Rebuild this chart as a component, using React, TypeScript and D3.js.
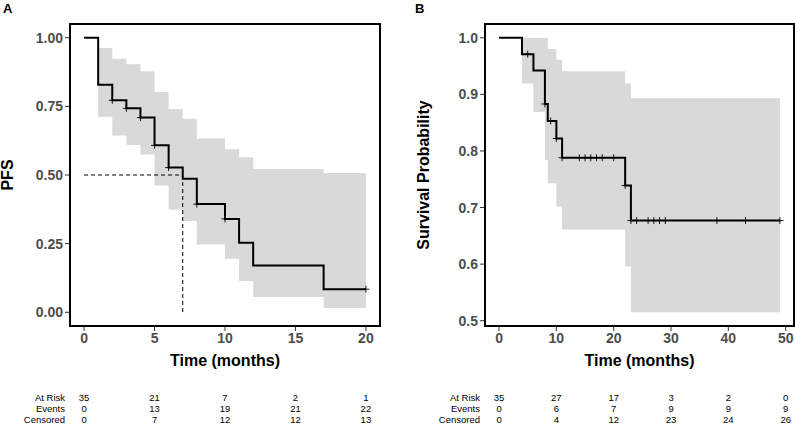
import React from "react";
import * as d3 from "d3";

// panel A: progression-free survival
const kmTimesA = [0, 1, 2, 3, 4, 5, 6, 7, 8, 10, 11, 12, 17, 20];
const kmSurvA = [1.0, 0.829, 0.772, 0.743, 0.709, 0.608, 0.527, 0.486, 0.394, 0.34, 0.253, 0.17, 0.084, 0.084];
const upperA = [1.0, 0.963, 0.923, 0.903, 0.878, 0.802, 0.74, 0.705, 0.633, 0.594, 0.565, 0.522, 0.507, 0.507];
const lowerA = [1.0, 0.712, 0.644, 0.609, 0.575, 0.462, 0.374, 0.332, 0.247, 0.195, 0.114, 0.056, 0.016, 0.016];
const censorA = [2, 3, 4, 5, 6, 8, 10, 20];
const medianA = 7;
const xTicksA = [0, 5, 10, 15, 20];
const yTicksA = [0, 0.25, 0.5, 0.75, 1];
const atRiskA = [35, 21, 7, 2, 1];
const eventsA = [0, 13, 19, 21, 22];
const censoredA = [0, 7, 12, 12, 13];

// panel B: overall survival
const kmTimesB = [0, 4, 6, 8, 8.5, 10, 11, 22, 23, 49];
const kmSurvB = [1.0, 0.971, 0.942, 0.883, 0.853, 0.822, 0.788, 0.739, 0.677, 0.677];
const upperB = [1.0, 1.0, 1.0, 1.0, 0.98, 0.961, 0.941, 0.919, 0.893, 0.893];
const lowerB = [1.0, 0.919, 0.869, 0.784, 0.743, 0.702, 0.661, 0.596, 0.515, 0.515];
const censorB = [5, 8, 9, 10, 11, 14, 15, 16, 17, 18, 20, 22, 23, 24, 26, 27, 28, 29, 38, 43, 49];
const xTicksB = [0, 10, 20, 30, 40, 50];
const yTicksB = [0.5, 0.6, 0.7, 0.8, 0.9, 1.0];
const atRiskB = [35, 27, 17, 3, 2, 0];
const eventsB = [0, 6, 7, 9, 9, 9];
const censoredB = [0, 4, 12, 23, 24, 26];

const rowLabels = ["At Risk", "Events", "Censored"];
const FONT = "'Liberation Sans', Arial, Helvetica, sans-serif";

type PanelProps = {
  tag: string;
  tagX: number;
  yTitle: string;
  yTitleX: number;
  left: number;
  right: number;
  xDomain: [number, number];
  yDomain: [number, number];
  xTicks: number[];
  yTicks: number[];
  yFormat: string;
  times: number[];
  surv: number[];
  upper: number[];
  lower: number[];
  censor: number[];
  median?: number;
  risk: number[][];
};

const top = 24;
const bottom = 326;

function Panel(p: PanelProps) {
  const x = d3.scaleLinear().domain(p.xDomain).range([p.left, p.right]);
  const y = d3.scaleLinear().domain(p.yDomain).range([bottom, top]);
  const fmt = d3.format(p.yFormat);

  const pts = p.times.map((t, i) => ({ t, s: p.surv[i], hi: p.upper[i], lo: p.lower[i] }));
  const line = d3
    .line<any>()
    .x(d => x(d.t))
    .y(d => y(d.s))
    .curve(d3.curveStepAfter);
  const band = d3
    .area<any>()
    .x(d => x(d.t))
    .y0(d => y(d.lo))
    .y1(d => y(d.hi))
    .curve(d3.curveStepAfter);

  // survival level at time t (right-continuous step)
  const survAt = (t: number) => {
    let s = p.surv[0];
    p.times.forEach((tt, i) => {
      if (tt <= t) s = p.surv[i];
    });
    return s;
  };

  const mid = (p.left + p.right) / 2;
  const rowY = [401, 412, 422.5];

  return (
    <g fontFamily={FONT}>
      <text x={p.tagX} y={13} fontSize={13} fontWeight="bold">
        {p.tag}
      </text>
      <path d={band(pts) || ""} fill="#d9d9d9" />
      {p.median !== undefined && (
        <g stroke="#000" strokeWidth={1} strokeDasharray="4,3" fill="none">
          <line x1={x(0)} x2={x(p.median)} y1={y(0.5)} y2={y(0.5)} />
          <line x1={x(p.median)} x2={x(p.median)} y1={y(0.5)} y2={y(0)} />
        </g>
      )}
      <path d={line(pts) || ""} fill="none" stroke="#000" strokeWidth={2} />
      {p.censor.map((t, i) => (
        <g key={i} stroke="#000" strokeWidth={0.9}>
          <line x1={x(t)} x2={x(t)} y1={y(survAt(t)) - 3.5} y2={y(survAt(t)) + 3.5} />
          <line x1={x(t) - 3.5} x2={x(t) + 3.5} y1={y(survAt(t))} y2={y(survAt(t))} />
        </g>
      ))}
      <rect
        x={p.left}
        y={top}
        width={p.right - p.left}
        height={bottom - top}
        fill="none"
        stroke="#000"
        strokeWidth={2}
      />
      {p.xTicks.map(t => (
        <g key={t}>
          <line x1={x(t)} x2={x(t)} y1={bottom + 1} y2={bottom + 5} stroke="#333" strokeWidth={1} />
          <text x={x(t)} y={343} textAnchor="middle" fontSize={14} fontWeight="bold" fill="#4d4d4d">
            {t}
          </text>
        </g>
      ))}
      {p.yTicks.map(t => (
        <g key={t}>
          <line x1={p.left - 5} x2={p.left - 1} y1={y(t)} y2={y(t)} stroke="#333" strokeWidth={1} />
          <text x={p.left - 7} y={y(t) + 5} textAnchor="end" fontSize={14} fontWeight="bold" fill="#4d4d4d">
            {fmt(t)}
          </text>
        </g>
      ))}
      <text x={mid} y={366} textAnchor="middle" fontSize={16} fontWeight="bold">
        Time (months)
      </text>
      <text
        transform={`translate(${p.yTitleX},${(top + bottom) / 2}) rotate(-90)`}
        textAnchor="middle"
        fontSize={16}
        fontWeight="bold"
      >
        {p.yTitle}
      </text>
      {rowLabels.map((lab, r) => (
        <g key={lab} fontSize={9.5}>
          <text x={p.left - 5} y={rowY[r]} textAnchor="end">
            {lab}
          </text>
          {p.risk[r].map((v, i) => (
            <text key={i} x={x(p.xTicks[i])} y={rowY[r]} textAnchor="middle">
              {v}
            </text>
          ))}
        </g>
      ))}
    </g>
  );
}

export default function App() {
  return (
    <div style={{ position: "fixed", left: 0, top: 0 }}>
      <svg width={795} height={424} style={{ display: "block", background: "#fff" }}>
        <Panel
          tag="A"
          tagX={3}
          yTitle="PFS"
          yTitleX={13}
          left={70}
          right={380}
          xDomain={[-1, 21]}
          yDomain={[-0.05, 1.05]}
          xTicks={xTicksA}
          yTicks={yTicksA}
          yFormat=".2f"
          times={kmTimesA}
          surv={kmSurvA}
          upper={upperA}
          lower={lowerA}
          censor={censorA}
          median={medianA}
          risk={[atRiskA, eventsA, censoredA]}
        />
        <Panel
          tag="B"
          tagX={415}
          yTitle="Survival Probability"
          yTitleX={429}
          left={485}
          right={794}
          xDomain={[-2.45, 51.45]}
          yDomain={[0.4907, 1.0243]}
          xTicks={xTicksB}
          yTicks={yTicksB}
          yFormat=".1f"
          times={kmTimesB}
          surv={kmSurvB}
          upper={upperB}
          lower={lowerB}
          censor={censorB}
          risk={[atRiskB, eventsB, censoredB]}
        />
      </svg>
    </div>
  );
}
